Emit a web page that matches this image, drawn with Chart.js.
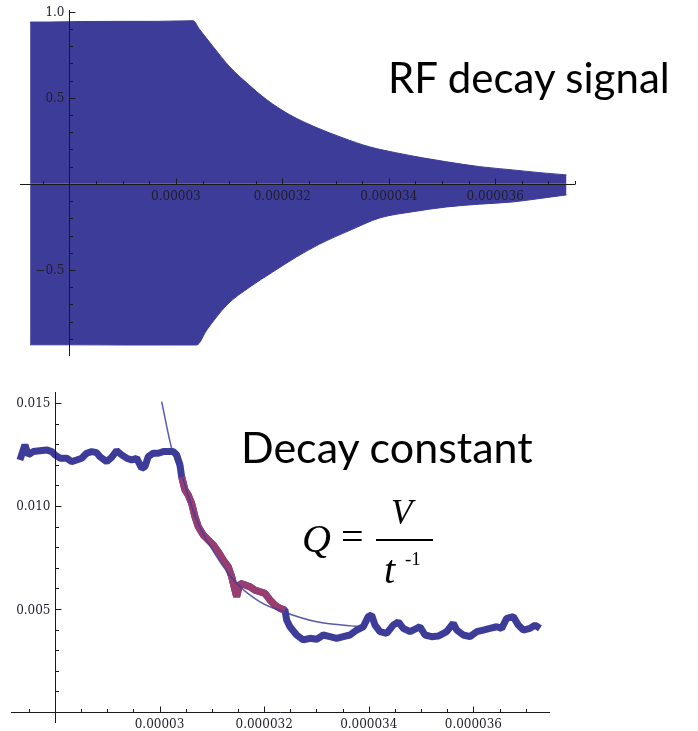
<!DOCTYPE html>
<html>
<head>
<meta charset="utf-8">
<script src="https://cdn.jsdelivr.net/npm/chart.js@4.4.1/dist/chart.umd.min.js"></script>
<style>
  html, body { margin: 0; padding: 0; background: #fff; }
  #wrap { position: relative; width: 698px; height: 731px; overflow: hidden; }
  canvas { position: absolute; left: 0; }
  #rfChart { top: 0; }
  #qChart { top: 370px; }
  .slide { position: absolute; font-family: Lato, "Open Sans", sans-serif; font-size: 42px; line-height: 1; color: #000; white-space: nowrap; }
  .eq { position: absolute; font-family: "Liberation Serif", serif; line-height: 1; color: #000; white-space: nowrap; }
</style>
</head>
<body>
<div id="wrap">
  <canvas id="rfChart" width="698" height="365"></canvas>
  <canvas id="qChart" width="698" height="361"></canvas>
  <div class="slide" style="left:388px; top:56px;">RF decay signal</div>
  <div class="slide" style="left:241px; top:425px; font-size:43px;">Decay constant</div>
  <div class="eq" style="left:302px; top:519px; font-size:40px; font-style:italic;">Q</div>
  <div class="eq" style="left:341px; top:517px; font-size:40px;">=</div>
  <div class="eq" style="left:391px; top:495px; font-size:35px; font-style:italic;">V</div>
  <div style="position:absolute; left:376px; top:539px; width:57px; height:2px; background:#000;"></div>
  <div class="eq" style="left:384px; top:550px; font-size:40px; font-style:italic;">t</div>
  <div class="eq" style="left:405px; top:549px; font-size:19px;">-1</div>
</div>
<script>
// RF decay signal: the ringing is so dense it plots as a solid band,
// so keep its upper and lower envelope (time in s, amplitude)
const rfUpperT = [27.26e-6, 27.6e-6, 28.2e-6, 28.9e-6, 29.6e-6, 30.0e-6, 30.32e-6, 30.45e-6, 30.70e-6,
  31.01e-6, 31.33e-6, 31.71e-6, 32.14e-6, 32.65e-6, 33.14e-6, 33.64e-6, 34.15e-6, 34.64e-6,
  35.09e-6, 35.71e-6, 36.33e-6, 36.84e-6, 37.34e-6];
const rfUpperV = [0.94, 0.94, 0.943, 0.944, 0.944, 0.946, 0.948, 0.895, 0.797,
  0.68, 0.587, 0.488, 0.401, 0.326, 0.267, 0.215, 0.18, 0.151,
  0.128, 0.10, 0.081, 0.065, 0.052];
const rfLowerT = [27.26e-6, 28.0e-6, 29.0e-6, 30.0e-6, 30.39e-6, 30.58e-6, 30.96e-6, 31.39e-6, 31.82e-6,
  32.27e-6, 32.70e-6, 33.27e-6, 33.83e-6, 34.45e-6, 35.09e-6, 35.70e-6, 36.33e-6, 36.84e-6, 37.34e-6];
const rfLowerV = [-0.935, -0.935, -0.936, -0.936, -0.936, -0.849, -0.703, -0.599, -0.512,
  -0.424, -0.35, -0.27, -0.198, -0.162, -0.134, -0.118, -0.105, -0.085, -0.064];

// decay constant trace (time in s)
const qT = [27.331e-6, 27.426e-6, 27.489e-6, 27.585e-6, 27.713e-6, 27.841e-6, 27.937e-6, 28.000e-6,
  28.096e-6, 28.224e-6, 28.319e-6, 28.415e-6, 28.511e-6, 28.606e-6, 28.702e-6, 28.797e-6,
  28.860e-6, 28.989e-6, 29.084e-6, 29.180e-6, 29.275e-6, 29.371e-6, 29.467e-6, 29.562e-6,
  29.658e-6, 29.721e-6, 29.784e-6, 29.880e-6, 29.975e-6, 30.071e-6, 30.166e-6, 30.262e-6,
  30.327e-6, 30.390e-6, 30.423e-6, 30.486e-6, 30.549e-6, 30.614e-6, 30.677e-6, 30.740e-6,
  30.836e-6, 30.931e-6, 31.027e-6, 31.122e-6, 31.218e-6, 31.314e-6, 31.379e-6, 31.442e-6,
  31.474e-6, 31.537e-6, 31.633e-6, 31.728e-6, 31.824e-6, 31.920e-6, 32.015e-6, 32.111e-6,
  32.207e-6, 32.302e-6, 32.398e-6, 32.430e-6, 32.493e-6, 32.621e-6, 32.748e-6, 32.876e-6,
  33.004e-6, 33.130e-6, 33.258e-6, 33.386e-6, 33.512e-6, 33.641e-6, 33.769e-6, 33.895e-6,
  33.990e-6, 34.055e-6, 34.119e-6, 34.214e-6, 34.342e-6, 34.468e-6, 34.564e-6, 34.660e-6,
  34.788e-6, 34.916e-6, 34.979e-6, 35.075e-6, 35.203e-6, 35.329e-6, 35.489e-6, 35.616e-6,
  35.681e-6, 35.807e-6, 35.935e-6, 36.063e-6, 36.189e-6, 36.317e-6, 36.446e-6, 36.541e-6,
  36.637e-6, 36.763e-6, 36.859e-6, 36.954e-6, 37.082e-6, 37.178e-6, 37.273e-6];
const qV = [0.01223, 0.01296, 0.01248, 0.01264, 0.01268, 0.01272, 0.01264, 0.01248,
  0.01232, 0.01232, 0.01215, 0.01223, 0.01232, 0.01256, 0.01264, 0.01259,
  0.01239, 0.01215, 0.01236, 0.01268, 0.01248, 0.01232, 0.01223, 0.01232,
  0.01183, 0.01191, 0.01239, 0.01256, 0.01256, 0.01264, 0.01264, 0.01264,
  0.01248, 0.01199, 0.01141, 0.01078, 0.01053, 0.01013, 0.00948, 0.00900,
  0.00859, 0.00835, 0.00811, 0.00778, 0.00738, 0.00705, 0.00657, 0.00592,
  0.00560, 0.00625, 0.00617, 0.00608, 0.00592, 0.00584, 0.00576, 0.00544,
  0.00519, 0.00503, 0.00495, 0.00447, 0.00414, 0.00374, 0.00350, 0.00358,
  0.00353, 0.00374, 0.00366, 0.00358, 0.00366, 0.00374, 0.00398, 0.00414,
  0.00463, 0.00471, 0.00422, 0.00390, 0.00382, 0.00422, 0.00438, 0.00406,
  0.00390, 0.00406, 0.00414, 0.00374, 0.00366, 0.00369, 0.00390, 0.00431,
  0.00398, 0.00374, 0.00366, 0.00390, 0.00398, 0.00406, 0.00414, 0.00406,
  0.00455, 0.00463, 0.00422, 0.00398, 0.00406, 0.00422, 0.00406];
// part of the trace used for the fit
const fitStart = 30.42e-6;
const fitEnd = 32.40e-6;
// fitted curve
const fitT = [30.040e-6, 30.231e-6, 30.453e-6, 30.709e-6, 31.092e-6, 31.474e-6, 31.920e-6, 32.365e-6, 33.004e-6, 33.864e-6];
const fitV = [0.01506, 0.01280, 0.01126, 0.00932, 0.00754, 0.00625, 0.00535, 0.00487, 0.00438, 0.00414];

// axis ticks
const timeMajor = [0.00003, 0.000032, 0.000034, 0.000036];
const timeLabels = ['0.00003', '0.000032', '0.000034', '0.000036'];
const rfMajor = [-0.5, 0.5, 1.0];
const rfLabels = ['\u22120.5', '0.5', '1.0'];
const qMajor = [0.005, 0.010, 0.015];
const qLabels = ['0.005', '0.010', '0.015'];

const blue = '#3d3d99';
const crimson = '#993d71';

function pts(xs, ys) {
    return xs.map((x, i) => ({x: x, y: ys[i]}));
}

function timeMinor(lastHalf) {
    // every 0.5 us, the 2 us steps are the major ones
    var out = [];
    for (let k = 55; k <= lastHalf; k++) {
        if (k % 4 !== 0) out.push(k * 0.5e-6);
    }
    return out;
}

// Mathematica style axes: crossing inside the plot, ticks pointing inward
const mmaAxes = {
    id: 'mmaAxes',
    afterDatasetsDraw(chart, args, o) {
        const ctx = chart.ctx;
        const area = chart.chartArea;
        const xs = chart.scales.x, ys = chart.scales.y;
        const y0 = Math.round(ys.getPixelForValue(o.xAxisAt)) + 0.5;
        const x0 = Math.round(xs.getPixelForValue(o.yAxisAt)) + 0.5;
        ctx.save();
        ctx.strokeStyle = '#1a1a1a';
        ctx.lineWidth = 1;
        ctx.beginPath();
        ctx.moveTo(area.left, y0);
        ctx.lineTo(area.right, y0);
        ctx.moveTo(x0, area.top);
        ctx.lineTo(x0, area.bottom);
        o.xMinor.forEach(v => {
            const px = Math.round(xs.getPixelForValue(v)) + 0.5;
            ctx.moveTo(px, y0); ctx.lineTo(px, y0 - 3.5);
        });
        o.xMajor.forEach(v => {
            const px = Math.round(xs.getPixelForValue(v)) + 0.5;
            ctx.moveTo(px, y0); ctx.lineTo(px, y0 - 6);
        });
        o.yMinor.forEach(v => {
            const py = Math.round(ys.getPixelForValue(v)) + 0.5;
            ctx.moveTo(x0, py); ctx.lineTo(x0 + 3.5, py);
        });
        o.yMajor.forEach(v => {
            const py = Math.round(ys.getPixelForValue(v)) + 0.5;
            ctx.moveTo(x0, py); ctx.lineTo(x0 + 6, py);
        });
        ctx.stroke();

        ctx.fillStyle = '#1e1e2a';
        ctx.font = '12px "DejaVu Serif", serif';
        ctx.textBaseline = 'alphabetic';
        ctx.textAlign = 'center';
        o.xMajor.forEach((v, i) => {
            ctx.fillText(o.xLabels[i], xs.getPixelForValue(v), y0 + 15);
        });
        ctx.textAlign = 'right';
        o.yMajor.forEach((v, i) => {
            ctx.fillText(o.yLabels[i], x0 - 5, ys.getPixelForValue(v) + 4.5);
        });
        ctx.restore();
    }
};

function baseOptions(padding, xmin, xmax, ymin, ymax, axes) {
    return {
        responsive: false,
        animation: false,
        devicePixelRatio: 1,
        layout: { padding: padding },
        scales: {
            x: { type: 'linear', min: xmin, max: xmax, display: false },
            y: { type: 'linear', min: ymin, max: ymax, display: false }
        },
        elements: { point: { radius: 0 } },
        plugins: {
            legend: { display: false },
            tooltip: { enabled: false },
            mmaAxes: axes
        }
    };
}

var rfMinorY = [];
for (let k = -9; k <= 10; k++) {
    if (k !== 0 && k % 5 !== 0) rfMinorY.push(k / 10);
}
var qMinorY = [];
for (let k = 1; k <= 15; k++) {
    if (k % 5 !== 0) qMinorY.push(k / 1000);
}

new Chart(document.getElementById('rfChart'), {
    type: 'line',
    data: {
        datasets: [
            { data: pts(rfUpperT, rfUpperV), fill: 'origin', backgroundColor: blue, borderColor: blue,
              borderWidth: 1, cubicInterpolationMode: 'monotone' },
            { data: pts(rfLowerT, rfLowerV), fill: 'origin', backgroundColor: blue, borderColor: blue,
              borderWidth: 1, cubicInterpolationMode: 'monotone' }
        ]
    },
    options: baseOptions({left: 20, right: 123, top: 10, bottom: 9}, 27.07e-6, 37.5e-6, -1, 1.01, {
        xAxisAt: 0, yAxisAt: 28e-6,
        xMajor: timeMajor, xLabels: timeLabels, xMinor: timeMinor(75),
        yMajor: rfMajor, yLabels: rfLabels, yMinor: rfMinorY
    }),
    plugins: [mmaAxes]
});

const fitIdx = qT.map((t, i) => i).filter(i => qT[i] >= fitStart && qT[i] <= fitEnd);

new Chart(document.getElementById('qChart'), {
    type: 'line',
    data: {
        datasets: [
            { data: pts(fitT, fitV), borderColor: 'rgba(61,61,153,0.85)', borderWidth: 1.5,
              cubicInterpolationMode: 'monotone', fill: false },
            { data: fitIdx.map(i => ({x: qT[i], y: qV[i]})), borderColor: crimson, borderWidth: 7,
              borderJoinStyle: 'bevel', fill: false },
            { data: pts(qT, qV), borderColor: blue, borderWidth: 7, borderJoinStyle: 'bevel', fill: false }
        ]
    },
    options: baseOptions({left: 11, right: 148, top: 22, bottom: 8}, 27.16e-6, 37.465e-6, -0.00053, 0.01553, {
        xAxisAt: 0, yAxisAt: 28e-6,
        xMajor: timeMajor, xLabels: timeLabels, xMinor: timeMinor(74),
        yMajor: qMajor, yLabels: qLabels, yMinor: qMinorY
    }),
    plugins: [mmaAxes]
});
</script>
</body>
</html>
